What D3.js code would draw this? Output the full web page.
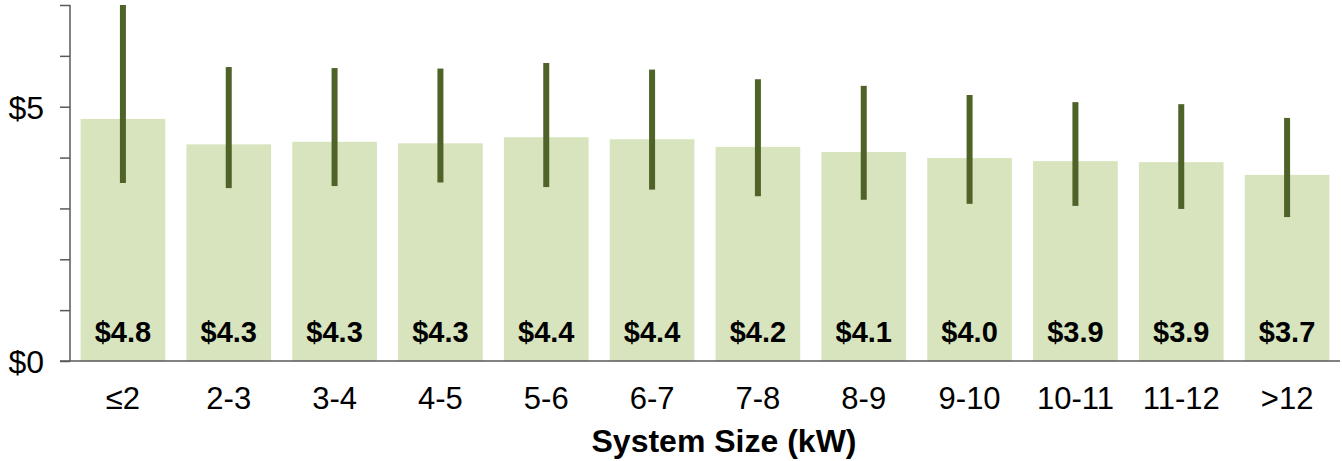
<!DOCTYPE html>
<html>
<head>
<meta charset="utf-8">
<script src="https://cdn.jsdelivr.net/npm/d3@7"></script>
<style>
  body { margin: 0; background: #fff; }
  text { font-family: "Liberation Sans", Arial, sans-serif; }
</style>
</head>
<body>
<div id="chart"></div>
<script>
  // system size bins and median price ($/W) with error bar range
  const categories = ['≤2', '2-3', '3-4', '4-5', '5-6', '6-7', '7-8', '8-9', '9-10', '10-11', '11-12', '>12'];
  const medians = [4.76, 4.26, 4.31, 4.28, 4.40, 4.36, 4.21, 4.11, 3.99, 3.93, 3.91, 3.66];
  const highs = [7.0, 5.78, 5.76, 5.75, 5.86, 5.73, 5.54, 5.41, 5.23, 5.09, 5.05, 4.78];
  const lows = [3.50, 3.40, 3.44, 3.51, 3.42, 3.37, 3.24, 3.17, 3.09, 3.05, 2.99, 2.83];
  const yTicks = [0, 1, 2, 3, 4, 5, 6, 7];
  const yLabelled = [0, 5];

  const W = 1342, H = 461;
  const plot = { left: 70, right: 1340, top: 5, bottom: 361 };

  const svg = d3.select('#chart').append('svg')
    .attr('width', W)
    .attr('height', H);

  const data = categories.map((c, i) => ({ cat: c, v: medians[i], hi: highs[i], lo: lows[i] }));

  const x = d3.scaleBand()
    .domain(categories)
    .range([plot.left, plot.right])
    .paddingInner(0.2)
    .paddingOuter(0.1);

  const y = d3.scaleLinear()
    .domain([0, 7])
    .range([plot.bottom, plot.top]);

  // bars
  svg.selectAll('rect.bar')
    .data(data)
    .enter().append('rect')
    .attr('class', 'bar')
    .attr('x', d => x(d.cat))
    .attr('y', d => y(d.v))
    .attr('width', x.bandwidth())
    .attr('height', d => y(0) - y(d.v))
    .style('fill', '#d7e4bd');

  // error bars
  svg.selectAll('line.err')
    .data(data)
    .enter().append('line')
    .attr('class', 'err')
    .attr('x1', d => x(d.cat) + x.bandwidth() / 2)
    .attr('x2', d => x(d.cat) + x.bandwidth() / 2)
    .attr('y1', d => y(d.hi))
    .attr('y2', d => y(d.lo))
    .style('stroke', '#4f6228')
    .style('stroke-width', 6);

  // value labels
  svg.selectAll('text.val')
    .data(data)
    .enter().append('text')
    .attr('class', 'val')
    .attr('x', d => x(d.cat) + x.bandwidth() / 2)
    .attr('y', 342)
    .attr('text-anchor', 'middle')
    .style('font-size', '29px')
    .style('font-weight', 'bold')
    .style('fill', '#000')
    .text(d => '$' + d3.format('.1f')(d.v));

  // y axis
  const yAxis = d3.axisLeft(y)
    .tickValues(yTicks)
    .tickSize(10)
    .tickPadding(16)
    .tickFormat(d => yLabelled.includes(d) ? '$' + d : '');

  const gy = svg.append('g')
    .attr('transform', `translate(${plot.left},0)`)
    .call(yAxis);
  gy.select('.domain').attr('d', `M0,${plot.top}V${plot.bottom}`);
  gy.selectAll('line, path').style('stroke', '#595959').style('stroke-width', 1.5);
  gy.selectAll('text')
    .style('font-size', '32px')
    .style('fill', '#000')
    .attr('dy', '0.36em');

  // x axis
  const xAxis = d3.axisBottom(x)
    .tickSize(0)
    .tickPadding(26);

  const gx = svg.append('g')
    .attr('transform', `translate(0,${plot.bottom})`)
    .call(xAxis);
  gx.select('.domain').attr('d', `M${plot.left - 10},0H${plot.right}`);
  gx.selectAll('path').style('stroke', '#595959').style('stroke-width', 1.5);
  gx.selectAll('text')
    .style('font-size', '31px')
    .style('fill', '#000');

  svg.append('text')
    .attr('x', (plot.left + plot.right) / 2 + 19)
    .attr('y', 452)
    .attr('text-anchor', 'middle')
    .style('font-size', '32px')
    .style('font-weight', 'bold')
    .text('System Size (kW)');
</script>
</body>
</html>
